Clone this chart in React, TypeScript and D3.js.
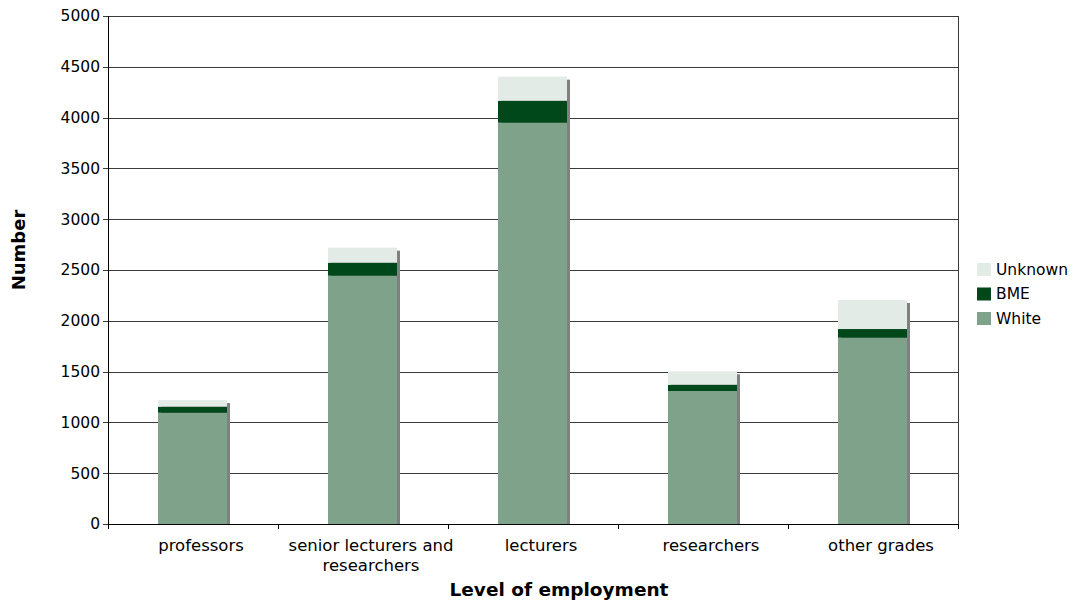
import React from "react";
import * as d3 from "d3";

const categories = ["professors", "senior lecturers and researchers", "lecturers", "researchers", "other grades"];
const categoryLines = [["professors"], ["senior lecturers and", "researchers"], ["lecturers"], ["researchers"], ["other grades"]];
const whiteValues = [1095, 2444, 3950, 1309, 1834];
const bmeValues = [60, 128, 216, 62, 85];
const unknownValues = [65, 148, 237, 132, 286];
const seriesNames = ["White", "BME", "Unknown"];
const seriesColors = ["#7fa38a", "#00471a", "#e3ebe7"];
const yTicks = [0, 500, 1000, 1500, 2000, 2500, 3000, 3500, 4000, 4500, 5000];

const FONT = "'DejaVu Sans', sans-serif";

export default function App() {
  const left = 108, right = 958, top = 16, bottom = 524;
  const x = d3.scaleBand<string>().domain(categories).range([left, right]).paddingInner(0).paddingOuter(0);
  const y = d3.scaleLinear().domain([0, 5000]).range([bottom, top]);
  const barW = 69;
  const rows = categories.map((c, i) => ({ cat: c, White: whiteValues[i], BME: bmeValues[i], Unknown: unknownValues[i] }));
  const stack = d3.stack<any>().keys(seriesNames)(rows);
  const totals = rows.map((r) => r.White + r.BME + r.Unknown);
  const bx = (c: string) => (x(c) as number) + x.bandwidth() / 2 - barW / 2 - 0.5;

  return (
    <svg width={1073} height={605} style={{ position: "absolute", left: 0, top: 0, fontFamily: FONT }}>
      <rect width={1073} height={605} fill="#fff" />
      {yTicks.map((t) => (
        <g key={t}>
          <line x1={left - 5} x2={right} y1={Math.round(y(t)) + 0.5} y2={Math.round(y(t)) + 0.5} stroke="#3a3a3a" strokeWidth={1} />
          <text x={left - 8} y={y(t)} dy="0.35em" textAnchor="end" fontSize={15.5} fill="#000">{t}</text>
        </g>
      ))}
      {categories.map((c, i) => (
        <rect key={"s" + c} x={bx(c) + 3} y={y(totals[i]) + 3} width={barW} height={bottom - y(totals[i]) - 3} fill="#808080" />
      ))}
      {stack.map((s, si) => (
        <g key={s.key} fill={seriesColors[si]}>
          {s.map((d, i) => (
            <rect key={i} x={bx(categories[i])} y={y(d[1])} width={barW} height={y(d[0]) - y(d[1])} />
          ))}
        </g>
      ))}
      <line x1={left + 0.5} x2={left + 0.5} y1={top} y2={bottom} stroke="#000" />
      <line x1={right + 0.5} x2={right + 0.5} y1={top} y2={bottom} stroke="#3a3a3a" />
      <line x1={left} x2={right + 1} y1={bottom + 0.5} y2={bottom + 0.5} stroke="#000" />
      {d3.range(categories.length + 1).map((i) => {
        const xx = left + i * x.bandwidth();
        return <line key={i} x1={xx + 0.5} x2={xx + 0.5} y1={bottom} y2={bottom + 5} stroke="#000" />;
      })}
      {categories.map((c, i) => {
        const cx = (x(c) as number) + x.bandwidth() / 2 + 8;
        return (
          <text key={c} x={cx} y={551} textAnchor="middle" fontSize={16.5} fill="#000">
            {categoryLines[i].map((l, j) => (
              <tspan key={j} x={cx} dy={j === 0 ? 0 : 19.5}>{l}</tspan>
            ))}
          </text>
        );
      })}
      <text x={559} y={596} textAnchor="middle" fontSize={18.5} fontWeight="bold" fill="#000">Level of employment</text>
      <text transform="translate(25,250) rotate(-90)" textAnchor="middle" fontSize={18} fontWeight="bold" fill="#000">Number</text>
      {[2, 1, 0].map((si, k) => (
        <g key={si} transform={`translate(977,${263 + k * 24.5})`}>
          <rect width={14} height={13} fill={seriesColors[si]} />
          <text x={19} y={6.5} dy="0.35em" fontSize={15.5} fill="#000">{seriesNames[si]}</text>
        </g>
      ))}
    </svg>
  );
}
